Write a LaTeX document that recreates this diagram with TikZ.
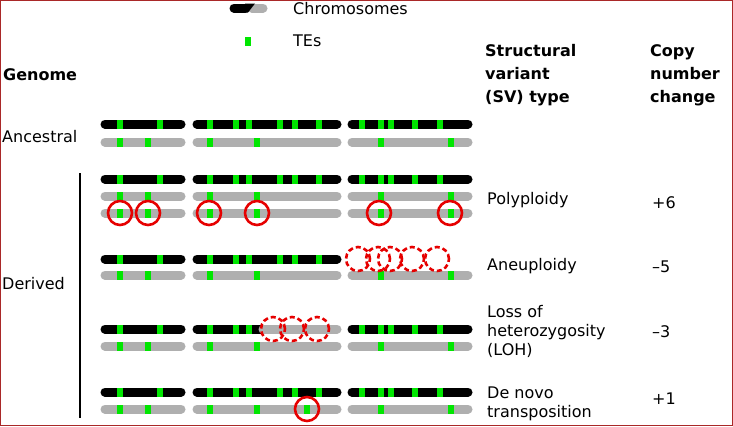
\documentclass[tikz,border=0pt]{standalone}
\usepackage{fontspec}
\setmainfont{DejaVu Sans}
\definecolor{te}{RGB}{0,230,0}
\definecolor{cg}{RGB}{175,175,175}
\definecolor{fr}{RGB}{170,40,40}
\definecolor{cr}{RGB}{230,0,0}
\begin{document}
\begin{tikzpicture}[x=1pt,y=-1pt,
  blk/.style={line width=9pt,line cap=round,black},
  gry/.style={line width=9pt,line cap=round,cg},
  tebox/.style={fill=te,minimum width=6pt,minimum height=9pt,inner sep=0pt},
  ring/.style={draw=cr,line width=2.6pt,circle,minimum size=24pt,inner sep=0pt},
  dring/.style={ring,dash pattern=on 5pt off 3pt},
  lab/.style={font=\fontsize{16}{19}\selectfont,anchor=west,inner sep=0pt,align=left},
  hd/.style={lab,font=\fontsize{16}{23}\selectfont\bfseries}]
\draw[fr,line width=1pt] (0.5,0.5) rectangle (732.5,425.5);
\useasboundingbox (0,0) rectangle (733,426);
% legend
\draw[gry] (252,8) -- (263,8);
\draw[blk] (234,8) -- (245,8);
\fill[black] (245,3.5) -- (255,3.5) -- (248,12.5) -- (245,12.5) -- cycle;
\node[tebox] (lte) at (248,41) {};
\node[lab] (lc) at (293,9) {Chromosomes};
\node[lab] (lt) at (293,41) {TEs};
% headers
\node[hd] (g) at (3,75) {Genome};
\node[hd,anchor=north west] (sv) at (485,44) {Structural\\variant\\(SV) type};
\node[hd,anchor=north west] (cn) at (650,44) {Copy\\number\\change};
\node[lab] (an) at (2,137) {Ancestral};
\node[lab] (de) at (2,284) {Derived};
\draw[line width=2pt] (80,173) -- (80,418);
% chromosome macros
\newcommand{\cblack}[2]{%
 \draw[blk] (105,#1) -- (181,#1); \foreach \x in {120,160} \node[tebox] at (\x,#1) {};
 \ifnum#2=1 \draw[blk] (197,#1) -- (337,#1);
  \foreach \x in {210,236,249,280,295,319} \node[tebox] at (\x,#1) {};\fi
 \ifnum#2=2 \draw[blk] (197,#1) -- (263,#1); \draw[gry] (263,#1) -- (337,#1);
  \foreach \x in {210,236,249} \node[tebox] at (\x,#1) {};\fi}
\newcommand{\cblackc}[1]{\draw[blk] (352,#1) -- (468,#1);
 \foreach \x in {362,381,391,415,440} \node[tebox] at (\x,#1) {};}
\newcommand{\cgray}[1]{%
 \draw[gry] (105,#1) -- (181,#1); \foreach \x in {120,148} \node[tebox] at (\x,#1) {};
 \draw[gry] (197,#1) -- (337,#1); \foreach \x in {210,257} \node[tebox] at (\x,#1) {};
 \draw[gry] (352,#1) -- (468,#1); \foreach \x in {381,451} \node[tebox] at (\x,#1) {};}
% ancestral
\cblack{124}{1}\cblackc{124}\cgray{142}
% polyploidy
\cblack{179}{1}\cblackc{179}\cgray{196}\cgray{213}
\foreach \x in {120,148,209,257,379,450} \node[ring] at (\x,213) {};
\node[lab] (p) at (487,200) {Polyploidy};
\node[lab] (p6) at (652,203) {+6};
% aneuploidy
\cblack{259}{1}\cgray{275}
\foreach \x in {358,378,390,412,437} \node[dring] at (\x,259) {};
\node[lab] (a) at (487,266) {Aneuploidy};
\node[lab] (a5) at (652,267) {–5};
% LOH
\cblack{329}{2}\cblackc{329}\cgray{346}
\foreach \x in {273,292,317} \node[dring] at (\x,329) {};
\node[lab] (l) at (487,331) {Loss of\\heterozygosity\\(LOH)};
\node[lab] (l3) at (652,332) {–3};
% de novo
\cblack{392}{1}\cblackc{392}\cgray{409}
\node[tebox] (nte) at (307,409) {};
\node[ring] (nr) at (307,409) {};
\node[lab] (d) at (487,404) {De novo\\transposition};
\node[lab] (d1) at (652,399) {+1};
\end{tikzpicture}
\end{document}
